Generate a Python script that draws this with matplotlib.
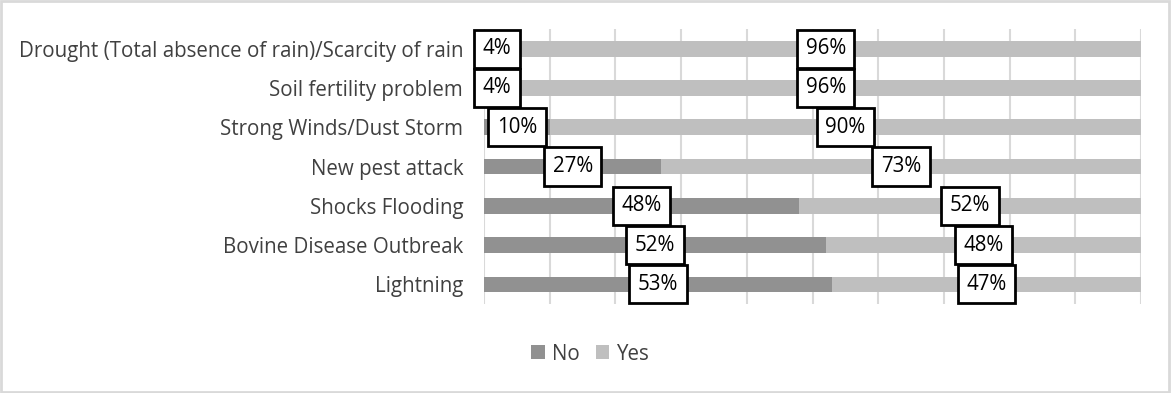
import matplotlib
matplotlib.use("Agg")
import matplotlib.pyplot as plt
from matplotlib.patches import Rectangle

categories = [
    "Drought (Total absence of rain)/Scarcity of rain",
    "Soil fertility problem",
    "Strong Winds/Dust Storm",
    "New pest attack",
    "Shocks Flooding",
    "Bovine Disease Outbreak",
    "Lightning",
]
no_vals = [4, 4, 10, 27, 48, 52, 53]
yes_vals = [96, 96, 90, 73, 52, 48, 47]

plt.rcParams['font.family'] = ['Open Sans', 'DejaVu Sans']
FS = 14.8

W, H = 1171, 393
fig = plt.figure(figsize=(W / 100, H / 100), dpi=100)
fig.patch.set_facecolor("white")
fig.add_artist(Rectangle((0.001, 0.002), 0.997, 0.995, transform=fig.transFigure,
                         fill=False, edgecolor="#d9d9d9", linewidth=2))

ax = fig.add_axes([484 / W, 1 - 304 / H, (1141 - 484) / W, (304 - 29) / H])
c_no, c_yes = "#919191", "#bfbfbf"
y = list(range(len(categories)))
ax.barh(y, no_vals, height=0.4, color=c_no, label="No", zorder=2)
ax.barh(y, yes_vals, left=no_vals, height=0.4, color=c_yes, label="Yes", zorder=2)

ax.set_xlim(0, 100)
ax.set_ylim(len(categories) - 0.5, -0.5)
ax.set_xticks(range(0, 101, 10))
ax.set_xticklabels([])
ax.grid(axis="x", color="#d9d9d9", linewidth=1.5, zorder=0)
ax.set_axisbelow(True)
ax.tick_params(length=0)
for s in ax.spines.values():
    s.set_visible(False)
ax.set_yticks(y)
ax.set_yticklabels(categories, fontsize=FS, color="#404040")
ax.tick_params(axis="y", pad=15)

box = dict(boxstyle="square,pad=0.42", facecolor="white", edgecolor="black", linewidth=2.0)
for i, (n, ye) in enumerate(zip(no_vals, yes_vals)):
    ax.text(n / 2, i, f"{n}%", ha="center", va="center", fontsize=FS,
            color="black", bbox=box, zorder=5)
    ax.text(n + ye / 2, i, f"{ye}%", ha="center", va="center", fontsize=FS,
            color="black", bbox=box, zorder=5)

fig.legend(loc="center", bbox_to_anchor=(0.504, 1 - 354 / H), ncol=2, frameon=False,
           fontsize=FS, handlelength=0.65, handleheight=0.65, handletextpad=0.35,
           columnspacing=0.8, labelcolor="#404040")

fig.savefig("out.png", dpi=100)
